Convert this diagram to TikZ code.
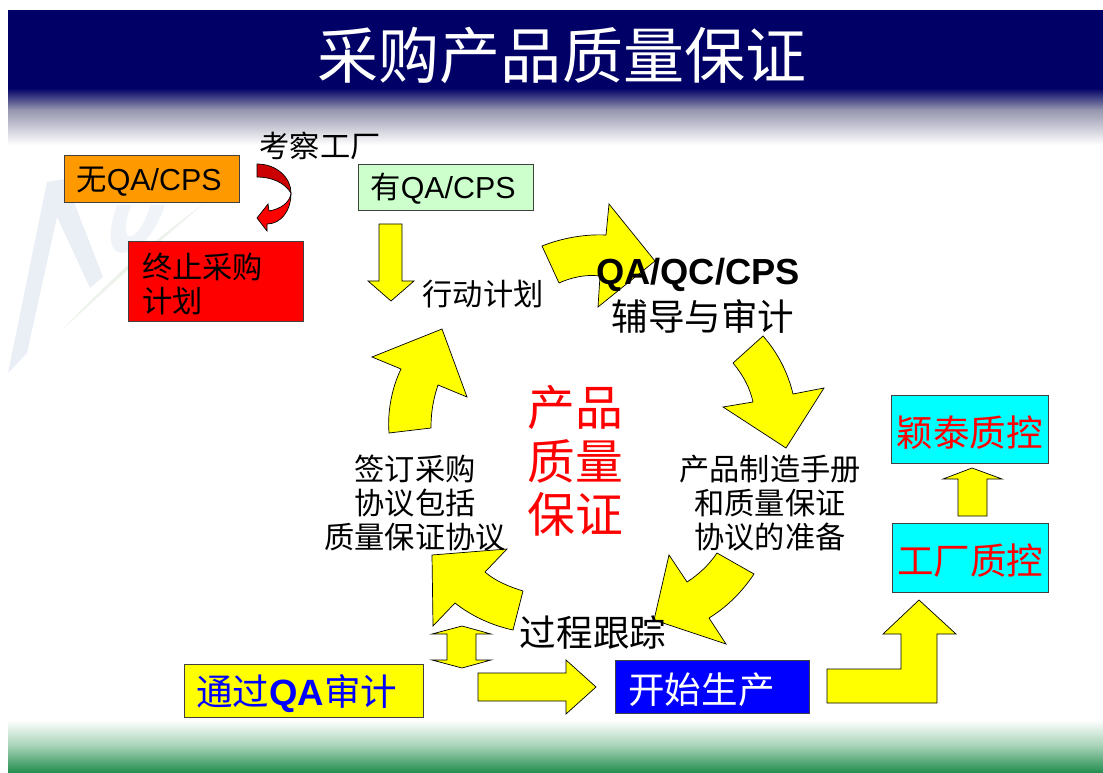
\documentclass[tikz,border=0pt]{standalone}
\usepackage{fontspec}
\setmainfont{Liberation Sans}
\newfontfamily\cjk{Noto Sans CJK SC}
\definecolor{bannerblue}{RGB}{0,0,102}
\definecolor{bannerfade}{RGB}{150,150,175}
\definecolor{footgreen}{RGB}{32,140,76}
\definecolor{footfade}{RGB}{170,212,186}
\definecolor{markblue}{RGB}{234,238,245}
\definecolor{markpale}{RGB}{240,243,248}
\definecolor{markgreen}{RGB}{236,243,234}
\definecolor{orangebox}{RGB}{255,153,0}
\definecolor{mintbox}{RGB}{204,255,204}
\definecolor{darkturn}{RGB}{204,0,0}
\definecolor{pureyellow}{RGB}{255,255,0}
\definecolor{purecyan}{RGB}{0,255,255}
\definecolor{pureblue}{RGB}{0,0,255}
\definecolor{purered}{RGB}{255,0,0}
\tikzset{
  blockarrow/.style={draw=black, fill=pureyellow, line width=0.5pt, line join=miter},
  turnarrow/.style={draw=black, line width=0.5pt},
  boxnode/.style={draw=black!75, line width=0.6pt, inner sep=0pt, anchor=north west},
  plain/.style={inner sep=0pt, align=center},
  small/.style={font=\fontsize{21.5}{24.2}\selectfont\cjk},
  large/.style={font=\fontsize{26}{26}\selectfont\cjk},
  latinbox/.style={boxnode, minimum width=175*0.025cm, text width=151*0.025cm, align=left, text height=19.2pt, text depth=2.8pt, font=\fontsize{21.6}{24}\selectfont},
  lowtext/.style={text height=28pt, text depth=4pt},
}
\begin{document}
\begin{tikzpicture}[x=0.025cm, y=-0.025cm]
  \useasboundingbox (0,0) rectangle (1103,773);

  \shade[top color=bannerblue, bottom color=bannerfade] (8,88) rectangle (1103,110);
  \shade[top color=bannerfade, bottom color=white] (8,110) rectangle (1103,145);
  \fill[bannerblue] (8,10) rectangle (1103,88.5);
  \shade[top color=white, bottom color=footfade] (8,720) rectangle (1103,745);
  \shade[top color=footfade, bottom color=footgreen] (8,745) rectangle (1103,773);

  \fill[markblue] (8,373) -- (47,182) -- (65,179) -- (103,277) -- (90,288) -- (57,217) -- (27,353) -- cycle;
  \fill[markpale] (117,205) .. controls (106,235) and (110,253) .. (122,253) .. controls (145,250) and (158,225) .. (165,205) -- (150,205) .. controls (145,225) and (135,238) .. (128,236) .. controls (124,232) and (126,215) .. (132,205) -- cycle;
  \fill[markgreen] (62,330) .. controls (105,285) and (150,242) .. (205,203) .. controls (152,247) and (108,288) .. (62,330) -- cycle;

  \draw[blockarrow] (542,246) .. controls (562,238) and (585,234) .. (606,235) -- (609,204) -- (655,261) -- (598,307) -- (600,276) .. controls (585,274) and (570,278) .. (559,283) -- cycle;
  \draw[blockarrow] (763,336) .. controls (778,353) and (788,373) .. (793,394) -- (824,388) -- (786,448) -- (723,407) -- (753,402) .. controls (750,388) and (743,375) .. (733,363) -- cycle;
  \draw[blockarrow] (754,574) .. controls (742,592) and (727,607) .. (709,618) -- (726,644) -- (654,620) -- (669,555) -- (687,582) .. controls (698,575) and (709,565) .. (717,553) -- cycle;
  \draw[blockarrow] (523,591) -- (513,630) .. controls (490,625) and (470,615) .. (455,603) -- (433,626) -- (432,555) -- (507,549) -- (485,572) .. controls (495,581) and (510,587) .. (523,591) -- cycle;
  \draw[blockarrow] (442,329) -- (372,357) -- (401,369) .. controls (393,385) and (387,410) .. (389,433) -- (431,428) .. controls (431,410) and (434,397) .. (438,385) -- (467,397) -- cycle;

  \draw[blockarrow] (379,224) -- (402,224) -- (402,281) -- (414,281) -- (391,301) -- (368,281) -- (379,281) -- cycle;
  \draw[blockarrow] (462,626) -- (491,634) -- (476,634) -- (476,660) -- (491,660) -- (462,668) -- (432,660) -- (447,660) -- (447,634) -- (432,634) -- cycle;
  \draw[blockarrow] (478,673) -- (566,673) -- (566,660) -- (596,687) -- (566,714) -- (566,701) -- (478,701) -- cycle;
  \draw[blockarrow] (958,516) -- (958,479) -- (943,479) -- (972,468) -- (1002,479) -- (987,479) -- (987,516) -- cycle;
  \draw[blockarrow] (827,669) -- (901,669) -- (901,634) -- (883,634) -- (919,600) -- (956,634) -- (937,634) -- (937,703) -- (827,703) -- cycle;

  \draw[turnarrow, fill=darkturn] (257,164) .. controls (277,164) and (291,178) .. (291,193) .. controls (285,183) and (272,177) .. (257,177) -- cycle;
  \draw[turnarrow, fill=purered] (291,193) .. controls (290,203) and (280,209) .. (269,211) -- (268,204) -- (257,218) -- (267,231) -- (267,224) .. controls (280,224) and (291,212) .. (291,193) -- cycle;

  \node[plain, white, font=\fontsize{43.4}{43.4}\selectfont\cjk] (title) at (562,55) {采购产品质量保证};

  \node[latinbox, fill=orangebox, minimum height=47*0.025cm] (noqa) at (64,155) {{\cjk 无}QA/CPS};
  \node[latinbox, fill=mintbox, minimum height=46*0.025cm] (hasqa) at (358,164) {{\cjk 有}QA/CPS};
  \node[boxnode, fill=purered, minimum width=175*0.025cm, minimum height=80*0.025cm] (stopbox) at (128,241) {};
  \node[plain, small, align=left, anchor=west] (stoptext) at (142,284) {终止采购\\计划};
  \node[boxnode, fill=pureyellow, minimum width=239*0.025cm, minimum height=53*0.025cm, text=pureblue, text width=215*0.025cm, align=left, text height=25pt, text depth=3.8pt, font=\fontsize{26}{26}\selectfont] (passbox) at (184,664) {{\cjk 通过}\textbf{QA}{\cjk 审计}};
  \node[boxnode, fill=pureblue, minimum width=194*0.025cm, minimum height=53*0.025cm, text=white, large, text width=168*0.025cm, align=left, lowtext] (startbox) at (615,660) {开始生产};
  \node[boxnode, fill=purecyan, minimum width=157*0.025cm, minimum height=68*0.025cm, text=purered, large, lowtext] (yingtai) at (891,395) {颖泰质控};
  \node[boxnode, fill=purecyan, minimum width=156*0.025cm, minimum height=69*0.025cm, text=purered, large, lowtext] (factory) at (892,523) {工厂质控};

  \node[plain, small] (visit) at (320,146) {考察工厂};
  \node[plain, small] (plan) at (483,294) {行动计划};
  \node[plain, font=\fontsize{25.8}{25.8}\selectfont\bfseries] (qaqc) at (698,275) {QA/QC/CPS};
  \node[plain, large] (audit) at (703,316) {辅导与审计};
  \node[plain, purered, font=\fontsize{34}{38}\selectfont\cjk] (centre) at (575,461) {产品\\质量\\保证};
  \node[plain, small] (sign) at (415,503) {签订采购\\协议包括\\质量保证协议};
  \node[plain, small] (manual) at (770,503) {产品制造手册\\和质量保证\\协议的准备};
  \node[plain, large] (track) at (593,633) {过程跟踪};
\end{tikzpicture}
\end{document}
